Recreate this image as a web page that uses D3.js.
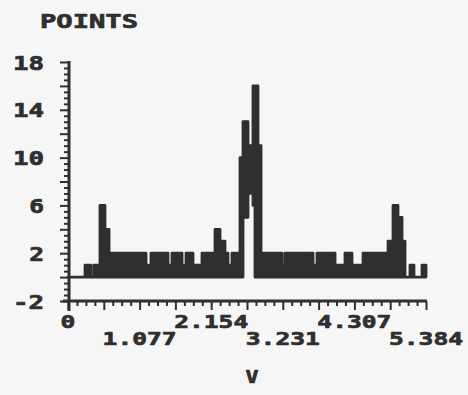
<!DOCTYPE html>
<html>
<head>
<meta charset="utf-8">
<script src="https://cdn.jsdelivr.net/npm/d3@7/dist/d3.min.js"></script>
<style>
  html, body { margin: 0; padding: 0; background: #f6f6f6; }
  svg { display: block; }
  text { font-family: "DejaVu Sans Mono", monospace; font-weight: bold; fill: #2f2f2f;
         stroke: #2f2f2f; stroke-width: 0.7px; stroke-linejoin: round; }
</style>
</head>
<body>
<svg id="chart" width="468" height="395"></svg>
<script>
// Point counts along V: each run starts at runStart and holds until the next run.
// runHigh / runLow are the largest and smallest counts seen inside the run.
const runStart = [0, 0.256, 0.346, 0.391, 0.481, 0.556, 0.617, 1.173, 1.248, 1.504,
                  1.564, 1.715, 1.775, 1.880, 2.015, 2.211, 2.286, 2.361, 2.406, 2.466,
                  2.587, 2.632, 2.707, 2.782, 2.812, 2.857, 2.903, 3.218, 3.263, 3.685,
                  3.745, 4.016, 4.166, 4.271, 4.437, 4.813, 4.888, 4.963, 5.023, 5.068,
                  5.143, 5.203, 5.324];
const runHigh  = [0, 1, 0, 1, 6, 4, 2, 1, 2, 1,
                  2, 1, 2, 1, 2, 4, 3, 2, 1, 2,
                  10, 13, 11, 16, 16, 11, 2, 1, 2, 1,
                  2, 1, 2, 1, 2, 3, 6, 5, 3, 0,
                  1, 0, 1];
const runLow   = [0, 0, 0, 0, 0, 0, 0, 0, 0, 0,
                  0, 0, 0, 0, 0, 0, 0, 0, 0, 0,
                  0, 5, 7, 6, 0, 0, 0, 0, 0, 0,
                  0, 0, 0, 0, 0, 0, 0, 0, 0, 0,
                  0, 0, 0];
const vMax = 5.384;

// Axis ticks and labels
const xTickLabels = ["0", "1.077", "2.154", "3.231", "4.307", "5.384"];
const yTickLabels = ["-2", "2", "6", "10", "14", "18"];
const xMinorCount = 40;      // small ticks along V
const yMinorStep = 0.5;      // small ticks along POINTS

const ink = "#2f2f2f";
const svg = d3.select("#chart");

const x = d3.scaleLinear().domain([0, vMax]).range([68, 426]);
const y = d3.scaleLinear().domain([-2, 18]).range([301, 62]);

// ---- data trace ----
const runs = runStart.map((s, i) => ({ v: s, hi: runHigh[i], lo: runLow[i] }));
runs.push({ v: vMax, hi: runHigh[runHigh.length - 1], lo: runLow[runLow.length - 1] });

const area = d3.area()
  .x(d => x(d.v))
  .y0(d => y(d.lo))
  .y1(d => y(d.hi))
  .curve(d3.curveStepAfter);

svg.append("path")
  .datum(runs)
  .attr("d", area)
  .attr("fill", ink)
  .attr("stroke", ink)
  .attr("stroke-width", 2.8)
  .attr("stroke-linejoin", "round");

// ---- axes ----
const xAll = d3.range(xMinorCount + 1).map(i => i * vMax / xMinorCount);
const xMinor = xAll.filter((d, i) => i % 4 !== 0);
const xMajor = xAll.filter((d, i) => i % 4 === 0);

const yAll = d3.range(-2, 18 + 1e-9, yMinorStep);
const yMinor = yAll.filter(d => Math.abs(((d + 2) % 2)) > 1e-9);
const yMajor = yAll.filter(d => Math.abs(((d + 2) % 2)) < 1e-9);

function styleAxis(g) {
  g.select(".domain").remove();
  g.selectAll("line").attr("stroke", ink).attr("stroke-width", 2);
  g.selectAll("text").remove();
}

svg.append("g").attr("transform", "translate(0,301)")
  .call(d3.axisBottom(x).tickValues(xMinor).tickSize(5).tickFormat(""))
  .call(styleAxis);
svg.append("g").attr("transform", "translate(0,301)")
  .call(d3.axisBottom(x).tickValues(xMajor).tickSize(9).tickFormat(""))
  .call(styleAxis);

svg.append("g").attr("transform", "translate(69,0)")
  .call(d3.axisLeft(y).tickValues(yMinor).tickSize(5).tickFormat(""))
  .call(styleAxis);
svg.append("g").attr("transform", "translate(69,0)")
  .call(d3.axisLeft(y).tickValues(yMajor).tickSize(9).tickFormat(""))
  .call(styleAxis);

// axis lines
svg.append("line")
  .attr("x1", 69).attr("x2", 69)
  .attr("y1", y(18) - 1).attr("y2", 311)
  .attr("stroke", ink).attr("stroke-width", 3);
svg.append("line")
  .attr("x1", 63).attr("x2", x(vMax) + 1)
  .attr("y1", 301).attr("y2", 301)
  .attr("stroke", ink).attr("stroke-width", 3);

// ---- labels ----
const charW = 14.8;

svg.selectAll("text.ylab")
  .data(yTickLabels)
  .join("text")
  .attr("class", "ylab")
  .attr("x", 44)
  .attr("y", d => y(+d) + 7.5)
  .attr("text-anchor", "end")
  .attr("font-size", 20)
  .attr("textLength", d => d.length * charW + (d.length - 1) * 1.5)
  .attr("lengthAdjust", "spacingAndGlyphs")
  .text(d => d);

svg.selectAll("text.xlab")
  .data(xTickLabels)
  .join("text")
  .attr("class", "xlab")
  .attr("x", d => x(+d))
  .attr("y", (d, i) => i % 2 === 0 ? 328 : 345)
  .attr("text-anchor", "middle")
  .attr("font-size", 18)
  .attr("textLength", d => d.length * charW)
  .attr("lengthAdjust", "spacingAndGlyphs")
  .text(d => d);

svg.append("text")
  .attr("x", 252).attr("y", 383)
  .attr("text-anchor", "middle")
  .attr("font-size", 18)
  .attr("textLength", 13)
  .attr("lengthAdjust", "spacingAndGlyphs")
  .text("V");

svg.append("text")
  .attr("x", 89).attr("y", 28)
  .attr("text-anchor", "middle")
  .attr("font-size", 20)
  .attr("textLength", 98)
  .attr("lengthAdjust", "spacingAndGlyphs")
  .text("POINTS");
</script>
</body>
</html>
